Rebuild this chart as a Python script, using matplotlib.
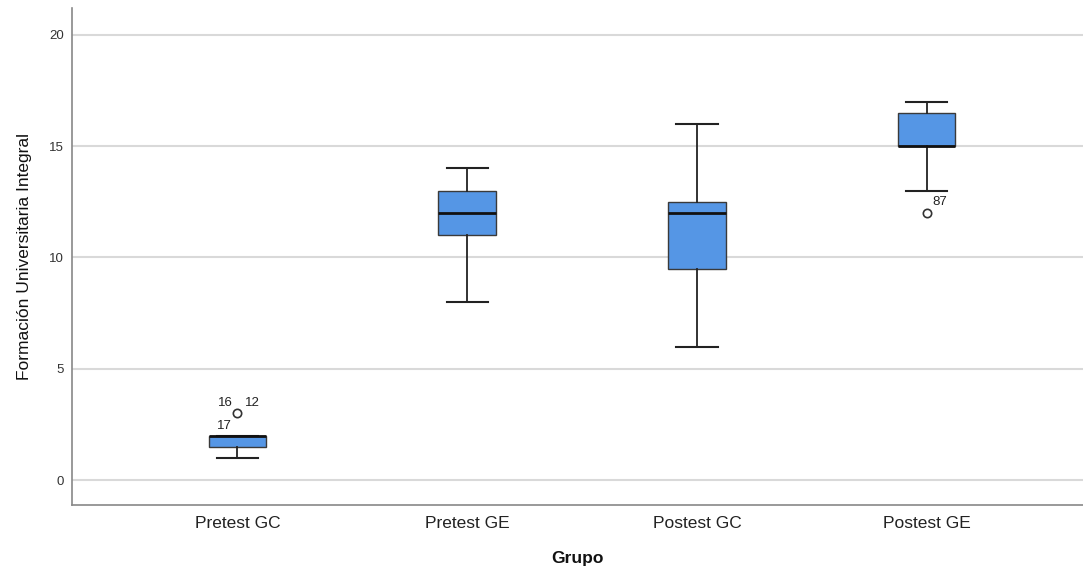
import matplotlib
matplotlib.use("Agg")
import matplotlib.pyplot as plt

plt.rcParams["font.family"] = ["Liberation Sans", "DejaVu Sans"]

categories = ["Pretest GC", "Pretest GE", "Postest GC", "Postest GE"]
whislo = [1, 8, 6, 13]
q1 = [1.5, 11, 9.5, 15]
med = [2, 12, 12, 15]
q3 = [2, 13, 12.5, 16.5]
whishi = [2, 14, 16, 17]
outliers = [[3], [], [], [12]]
outlier_labels = [[("16", -0.085, 0.45), ("12", 0.032, 0.47), ("17", -0.088, -0.58)], [], [], [("87", 0.026, 0.5)]]
yticks = [0, 5, 10, 15, 20]

fig = plt.figure(figsize=(10.83, 5.72), dpi=100)
ax = fig.add_axes([0.0665, 0.117, 0.9335, 0.869])

stats = []
for i, c in enumerate(categories):
    stats.append(dict(label=c, whislo=whislo[i], q1=q1[i], med=med[i], q3=q3[i],
                      whishi=whishi[i], fliers=outliers[i]))

pos = list(range(len(categories)))
ax.bxp(stats, positions=pos, widths=0.25, patch_artist=True, showfliers=True,
       boxprops=dict(facecolor="#5596E5", edgecolor="#3a3a3a", linewidth=1.0),
       medianprops=dict(color="#111111", linewidth=2.0),
       whiskerprops=dict(color="#222222", linewidth=1.3),
       capprops=dict(color="#222222", linewidth=1.5),
       capwidths=0.18,
       flierprops=dict(marker="o", markerfacecolor="white", markeredgecolor="#333333",
                       markersize=6, markeredgewidth=1.2, linestyle="none"))

for i, labs in enumerate(outlier_labels):
    for (t, dx, dy) in labs:
        y = outliers[i][0]
        ax.text(pos[i] + dx, y + dy, t, fontsize=9.5, color="#222222", ha="left", va="center")

ax.set_xlim(-0.72, 3.68)
ax.set_ylim(-1.12, 21.2)
ax.set_yticks(yticks)
ax.set_xticks(pos)
ax.set_xticklabels(categories, fontsize=12.5, color="#222222")
ax.tick_params(axis="y", length=0, labelsize=9.5, labelcolor="#333333", pad=6)
ax.tick_params(axis="x", length=0, pad=8)
ax.grid(axis="y", color="#d9d9d9", linewidth=1.5)
ax.set_axisbelow(True)
for s in ["top", "right"]:
    ax.spines[s].set_visible(False)
for s in ["left", "bottom"]:
    ax.spines[s].set_color("#888888")
    ax.spines[s].set_linewidth(1.2)

ax.set_xlabel("Grupo", fontsize=12.5, fontweight="bold", labelpad=14, color="#111111")
ax.set_ylabel("Formación Universitaria Integral", fontsize=12.5, color="#111111", labelpad=12)

fig.savefig("out.png", dpi=100)
